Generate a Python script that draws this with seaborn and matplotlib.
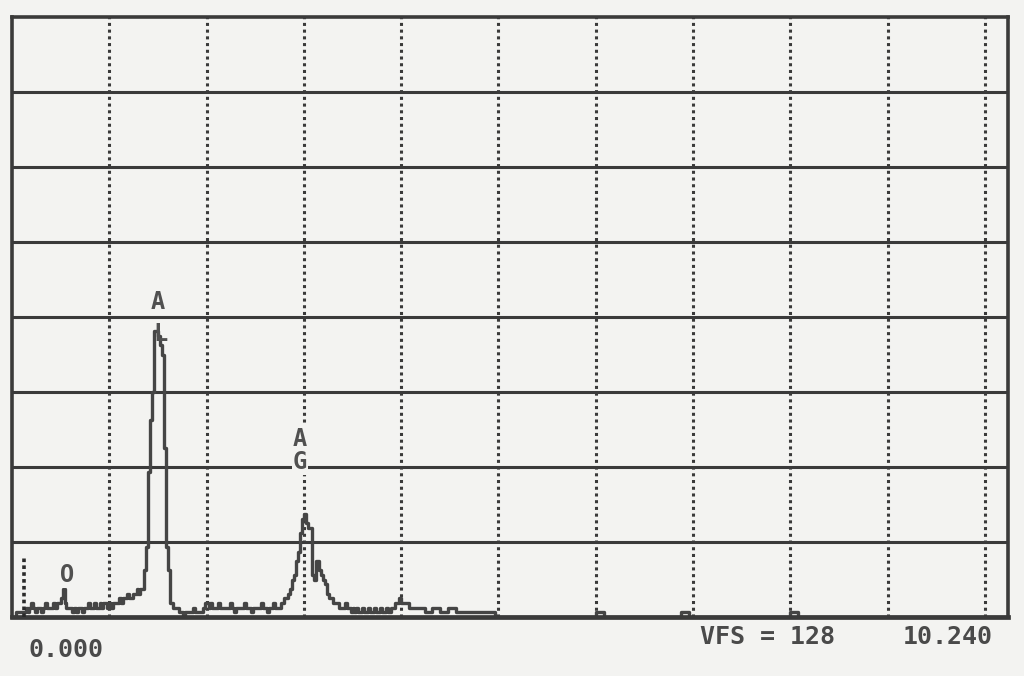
import numpy as np
import matplotlib
matplotlib.use("Agg")
import matplotlib.pyplot as plt
import seaborn as sns

# EDS spectrum, 0 - 10.24 keV, full scale 128 counts
# fine channels (0.02 keV) from 0 to 4.0 keV
fine_width = 0.02
fine_counts = [
    0, 0, 1, 1, 1, 1, 1, 2, 1, 2,          # 0.00
    3, 2, 1, 2, 2, 1, 2, 3, 2, 2,          # 0.20
    2, 3, 2, 3, 3, 4, 6, 3, 2, 2,          # 0.40  (O)
    2, 1, 2, 1, 2, 2, 1, 2, 2, 3,          # 0.60
    2, 2, 3, 2, 2, 3, 2, 3, 3, 2,          # 0.80
    3, 2, 3, 3, 3, 4, 3, 4, 4, 5,          # 1.00
    4, 4, 5, 5, 6, 5, 6, 6, 10, 15,        # 1.20
    31, 42, 48, 61, 61, 60, 58, 56, 36, 15,  # 1.40  (Al)
    10, 3, 3, 2, 2, 2, 1, 1, 0, 1,         # 1.60
    1, 1, 1, 2, 1, 1, 1, 1, 2, 3,          # 1.80
    3, 2, 3, 2, 2, 2, 3, 2, 2, 2,          # 2.00
    2, 2, 3, 2, 1, 2, 2, 2, 2, 3,          # 2.20
    2, 2, 2, 1, 2, 2, 2, 2, 3, 2,          # 2.40
    2, 1, 2, 2, 3, 2, 2, 2, 3, 3,          # 2.60
    4, 4, 5, 6, 8, 9, 12, 14, 18, 21,      # 2.80
    22, 20, 19, 19, 9, 8, 12, 12, 10, 9,   # 3.00  (Ag)
    8, 7, 5, 4, 4, 3, 3, 3, 2, 2,          # 3.20
    2, 3, 2, 2, 1, 2, 1, 2, 1, 1,          # 3.40
    2, 1, 1, 2, 1, 1, 2, 1, 1, 2,          # 3.60
    1, 1, 2, 1, 1, 2, 2, 3, 3, 4,          # 3.80
]
# coarse channels (0.08 keV) from 4.0 to 10.24 keV
coarse_width = 0.08
coarse_counts = [
    3, 2, 2, 1, 2, 1, 2, 1, 1, 1,
    1, 1, 0, 0, 0, 0, 0, 0, 0, 0,
    0, 0, 0, 0, 0, 1, 0, 0, 0, 0,
    0, 0, 0, 0, 0, 0, 1, 0, 0, 0,
    0, 0, 0, 0, 0, 0, 0, 0, 0, 0,
    1, 0, 0, 0, 0, 0, 0, 0, 0, 0,
    0, 0, 0, 0, 0, 0, 0, 0, 0, 0,
    0, 0, 0, 0, 0, 0, 0, 0,
]

# low-energy marker (dotted strobe line)
marker_energy = 0.12
marker_height = 13

# peak labels: text, energy, count position
peak_labels = [("O", 0.57, 9.0), ("A", 1.50, 67.2), ("L", 1.53, 60.3), ("A\nG", 2.96, 35.5)]

x_max = 10.24
vfs = 128
ink = "#3a3a3a"
paper = "#f3f3f1"

fine_edges = np.arange(len(fine_counts) + 1) * fine_width
coarse_edges = fine_edges[-1] + np.arange(1, len(coarse_counts) + 1) * coarse_width
edges = np.concatenate([fine_edges, coarse_edges])
counts = np.array(fine_counts + coarse_counts + [coarse_counts[-1]], dtype=float)

sns.set_style("white")
plt.rcParams["font.family"] = ["DejaVu Sans Mono", "DejaVu Sans"]

fig = plt.figure(figsize=(10.24, 6.76), dpi=100, facecolor=paper)
ax = fig.add_axes([0.0117, 0.087, 0.973, 0.888])
ax.set_facecolor(paper)

# grid: solid horizontals every 16 counts, dotted verticals every keV
for y in range(16, vfs, 16):
    ax.axhline(y, color=ink, lw=2.2, zorder=1)
for x in range(1, 11):
    ax.axvline(x, color=ink, lw=2.2, ls=(0, (1, 1.2)), zorder=1)

ax.axvline(marker_energy, 0, marker_height / vfs, color="#2a2a2a", lw=2.6,
           ls=(0, (1, 0.9)), zorder=6)

sns.lineplot(x=edges, y=counts, drawstyle="steps-post", color="#454545",
             lw=2.4, ax=ax, zorder=3)

for txt, ex, cy in peak_labels:
    box = dict(boxstyle="square,pad=0.05", fc=paper, ec="none") if txt != "L" else None
    ax.text(ex, cy, txt, ha="center", va="center", fontsize=17, fontweight="bold",
            color="#505050", linespacing=0.95, bbox=box, zorder=4)

ax.set_xlim(0, x_max)
ax.set_ylim(0, vfs)
ax.set_xticks([])
ax.set_yticks([])
ax.set_xlabel("")
ax.set_ylabel("")
for side, sp in ax.spines.items():
    sp.set_visible(True)
    sp.set_color(ink)
    sp.set_linewidth(3.4 if side == "bottom" else 2.6)
    sp.set_zorder(5)

fig.text(28 / 1024, 1 - 650 / 676, "0.000", fontsize=18, fontweight="bold",
         color="#4a4a4a", va="center", ha="left")
fig.text(700 / 1024, 1 - 637 / 676, "VFS = 128", fontsize=18, fontweight="bold",
         color="#4a4a4a", va="center", ha="left")
fig.text(993 / 1024, 1 - 637 / 676, "10.240", fontsize=18, fontweight="bold",
         color="#4a4a4a", va="center", ha="right")

fig.savefig("out.png", dpi=100, facecolor=paper)
